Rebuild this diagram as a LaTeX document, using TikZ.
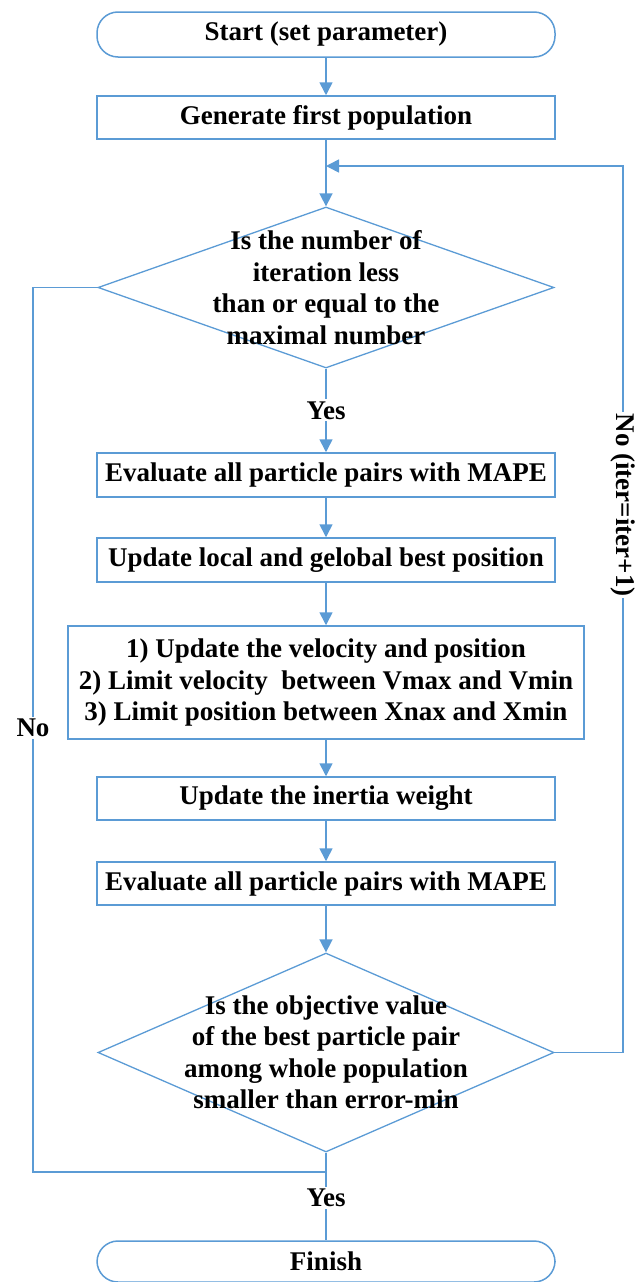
\documentclass[tikz,border=0pt]{standalone}
\usepackage{fontspec}
\setmainfont{Liberation Serif}
\usetikzlibrary{arrows.meta,shapes.geometric}
\definecolor{flowblue}{RGB}{91,155,213}
\begin{document}
\begin{tikzpicture}[x=1pt,y=-1pt,
  font=\bfseries\fontsize{27}{31.5}\selectfont,
  every node/.style={text=black},
  line/.style={draw=flowblue,line width=1.6pt},
  arr/.style={line,-{Triangle[width=13pt,length=13pt]}},
  termbox/.style={draw=flowblue,line width=1.5pt,rectangle,rounded corners=21pt,
    minimum width=458pt,minimum height=43pt,inner sep=0pt},
  stepbox/.style={draw=flowblue,line width=1.5pt,rectangle,
    minimum width=458pt,minimum height=43pt,inner sep=0pt},
  decbox/.style={draw=flowblue,line width=1.3pt,diamond,inner sep=0pt,
    minimum width=456pt},
  tag/.style={fill=white,inner sep=2pt}]
\useasboundingbox (0,0) rectangle (643,1282);

% main column of the flow chart
\node[termbox,minimum height=45pt] (start) at (326,34.5) {Start (set parameter)};
\node[stepbox] (gen) at (326,117.5) {Generate first population};
\node[decbox,minimum height=161pt,
  label={[align=center]center:Is the number of\\iteration less\\than or equal to the\\maximal number}]
  (d1) at (326,287.5) {};
\node[stepbox,minimum height=44pt] (ev1) at (326,475) {Evaluate all particle pairs with MAPE};
\node[stepbox,minimum height=44pt] (upd) at (326,560) {Update local and gelobal best position};
\node[stepbox,minimum width=516pt,minimum height=113pt,align=center] (vel) at (326,682.5)
  {1) Update the velocity and position\\2) Limit velocity~ between Vmax and Vmin\\3) Limit position between Xnax and Xmin};
\node[stepbox] (inert) at (326,798.5) {Update the inertia weight};
\node[stepbox] (ev2) at (326,883.5) {Evaluate all particle pairs with MAPE};
\node[decbox,minimum height=199pt,
  label={[align=center]center:Is the objective value\\of the best particle pair\\among whole population\\smaller than error-min}]
  (d2) at (326,1052.5) {};
\node[termbox,minimum height=41pt] (fin) at (326,1261.5) {Finish};

% points where the loop lines turn or join
\coordinate (merge) at (326,166);
\coordinate (rtop) at (623,166);
\coordinate (rbot) at (623,1052.5);
\coordinate (ltop) at (33,287.5);
\coordinate (lbot) at (33,1172);
\coordinate (join) at (326,1172);

% straight connectors
\draw[arr] (start) -- (gen);
\draw[arr] (gen) -- (d1.north);
\draw[arr] (d1.south) -- node[tag] (yes1) {Yes} (ev1);
\draw[arr] (ev1) -- (upd);
\draw[arr] (upd) -- (vel);
\draw[arr] (vel) -- (inert);
\draw[arr] (inert) -- (ev2);
\draw[arr] (ev2) -- (d2.north);
\draw[line] (d2.south) -- node[tag,pos=0.52] (yes2) {Yes} (fin);

% return loop on the right
\draw[arr] (d2.east) -- (rbot) -- (rtop) -- (merge);
\node[tag,rotate=-90] (noloop) at (623,505) {No (iter=iter+1)};

% exit path on the left
\draw[line] (d1.west) -- (ltop) -- (lbot) -- (join);
\node[tag] (noexit) at (33,728) {No};
\end{tikzpicture}
\end{document}
